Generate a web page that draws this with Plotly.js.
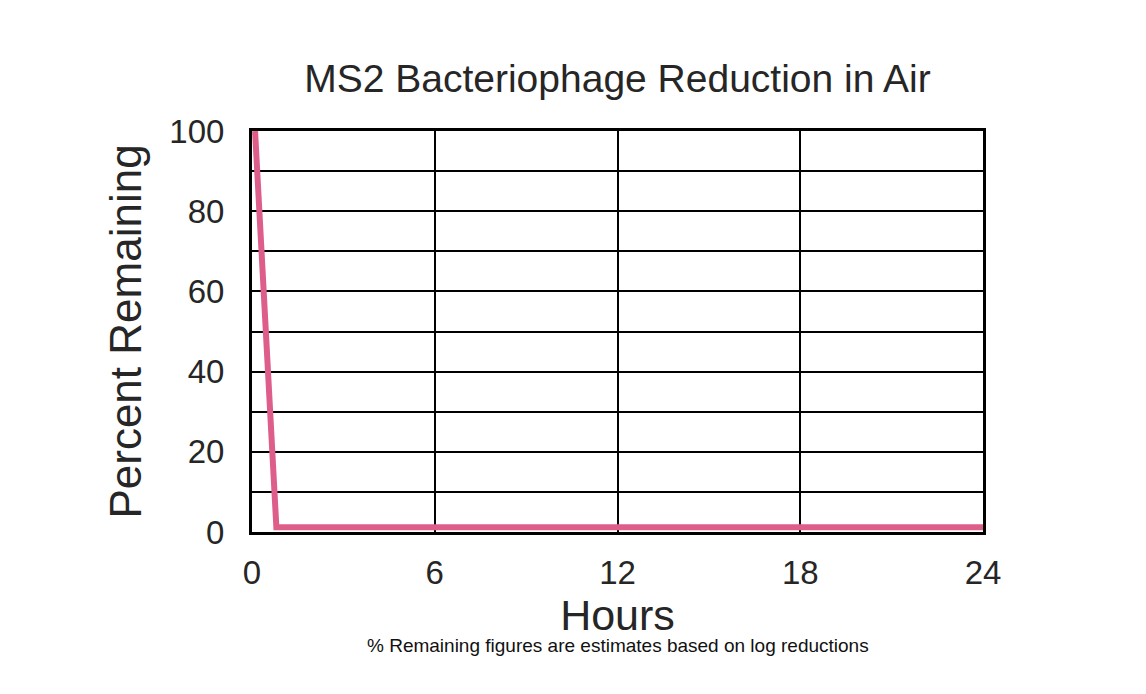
<!DOCTYPE html>
<html>
<head>
<meta charset="utf-8">
<script src="https://cdn.plot.ly/plotly-3.0.1.min.js"></script>
<style>html,body{margin:0;padding:0;background:#fff;}#chart{width:1146px;height:694px;}</style>
</head>
<body>
<div id="chart"></div>
<script>
const hours = [0.1, 0.8, 24];
const percentRemaining = [100, 1.2, 1.2];
const xTicks = [0, 6, 12, 18, 24];
const yTicks = [0, 20, 40, 60, 80, 100];
const titleText = "MS2 Bacteriophage Reduction in Air";
const xTitle = "Hours";
const yTitle = "Percent Remaining";
const footnote = "% Remaining figures are estimates based on log reductions";

const font = "Liberation Sans, Arial, sans-serif";
const textColor = "#262626";

const trace = {
  x: hours, y: percentRemaining, type: "scatter", mode: "lines",
  line: {color: "#DE5E8B", width: 6}, cliponaxis: true, hoverinfo: "none"
};

const layout = {
  width: 1146, height: 694,
  paper_bgcolor: "#fff", plot_bgcolor: "#fff",
  margin: {l: 252, r: 163, t: 131, b: 162},
  showlegend: false,
  font: {family: font, color: textColor},
  title: {text: titleText, font: {family: font, size: 39, color: textColor},
          x: 0.5, xref: "paper", xanchor: "center", y: 1 - 78/694, yref: "container", yanchor: "middle"},
  xaxis: {
    range: [0, 24], tickvals: xTicks, ticktext: xTicks.map(String),
    showgrid: true, gridcolor: "#000", gridwidth: 2,
    zeroline: false, showline: true, linecolor: "#000", linewidth: 3, mirror: true,
    ticks: "", ticklabelstandoff: 9,
    tickfont: {family: font, size: 33, color: textColor},
    title: {text: xTitle, font: {family: font, size: 43, color: textColor}, standoff: 0}
  },
  yaxis: {
    range: [0, 100], tickvals: yTicks, ticktext: yTicks.map(String),
    showgrid: true, gridcolor: "#000", gridwidth: 2,
    minor: {dtick: 10, showgrid: true, gridcolor: "#000", gridwidth: 2, ticks: ""},
    zeroline: false, showline: true, linecolor: "#000", linewidth: 3, mirror: true,
    ticks: "", ticklabelstandoff: 18,
    tickfont: {family: font, size: 33, color: textColor},
    title: {text: yTitle, font: {family: font, size: 44, color: textColor}, standoff: 14}
  },
  annotations: [{
    text: footnote, xref: "paper", yref: "paper",
    x: 0.5, y: (532 - 645) / 401, xanchor: "center", yanchor: "middle",
    showarrow: false, font: {family: font, size: 19, color: "#111"}
  }]
};

Plotly.newPlot("chart", [trace], layout, {displayModeBar: false, staticPlot: true});
</script>
</body>
</html>
